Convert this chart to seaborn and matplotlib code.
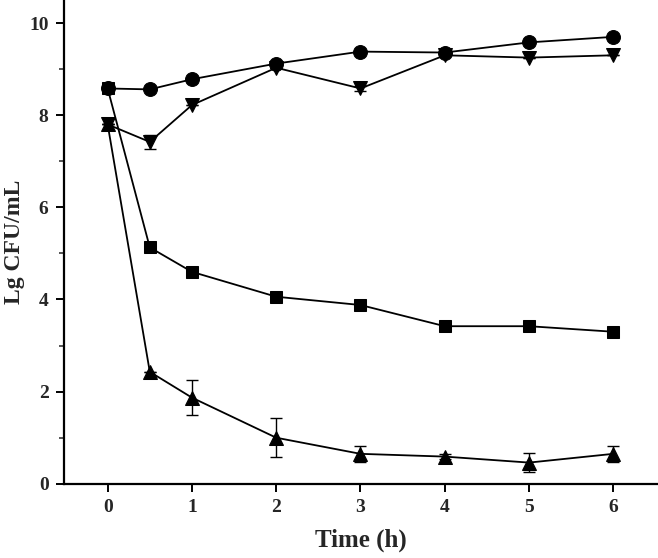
import matplotlib
matplotlib.use("Agg")
import matplotlib.pyplot as plt
import seaborn as sns
import pandas as pd

time = [0, 0.5, 1, 2, 3, 4, 5, 6]
circle_vals = [8.58, 8.56, 8.78, 9.12, 9.38, 9.36, 9.58, 9.70]
square_vals = [8.58, 5.13, 4.60, 4.06, 3.88, 3.42, 3.42, 3.30]
down_vals = [7.80, 7.42, 8.22, 9.03, 8.58, 9.30, 9.25, 9.30]
up_vals = [7.80, 2.43, 1.87, 1.00, 0.65, 0.59, 0.46, 0.65]
down_err = [0, 0.15, 0, 0, 0.05, 0, 0, 0]
up_err = [0, 0, 0.38, 0.42, 0.18, 0.05, 0.21, 0.18]
xticks = [0, 1, 2, 3, 4, 5, 6]
yticks = [0, 2, 4, 6, 8, 10]

sns.set_style("ticks")
plt.rcParams['font.family'] = ['Liberation Serif', 'DejaVu Serif']
plt.rcParams['font.weight'] = 'bold'

fig = plt.figure(figsize=(6.58, 5.58), dpi=100)
ax = fig.add_axes([0.097, 0.133, 0.903, 0.867])

series = [
    ("circle", circle_vals, "o", 10, None),
    ("down", down_vals, "v", 10, down_err),
    ("up", up_vals, "^", 10, up_err),
    ("square", square_vals, "s", 8, None),
]
for name, vals, mk, ms, err in series:
    df = pd.DataFrame({"t": time, "v": vals})
    sns.lineplot(data=df, x="t", y="v", ax=ax, color="black", lw=1.3,
                 marker=mk, markersize=ms, markeredgecolor="black",
                 markerfacecolor="black", legend=False)
    if err is not None:
        ax.errorbar(time, vals, yerr=err, fmt="none", ecolor="black",
                    elinewidth=1.0, capsize=4, capthick=1.0)

ax.set_xlim(-0.52, 6.53)
ax.set_ylim(0, 10.5)
ax.set_xticks(xticks)
ax.set_yticks(yticks)
ax.set_yticks([1, 3, 5, 7, 9], minor=True)
ax.tick_params(axis='both', which='major', direction='out', length=6, width=1.4,
               labelsize=14, color='black', pad=5)
ax.tick_params(axis='y', which='minor', direction='out', length=3.5, width=1.1)
for lbl in ax.get_xticklabels() + ax.get_yticklabels():
    lbl.set_fontweight('bold')
ax.set_xlabel("Time (h)", fontsize=18, fontweight='bold', labelpad=9)
ax.set_ylabel("Lg CFU/mL", fontsize=17, fontweight='bold')
ax.yaxis.set_label_coords(-0.066, 0.5)
for s in ['top', 'right']:
    ax.spines[s].set_visible(False)
for s in ['left', 'bottom']:
    ax.spines[s].set_linewidth(1.6)
    ax.spines[s].set_color('black')

fig.savefig("out.png", dpi=100)
